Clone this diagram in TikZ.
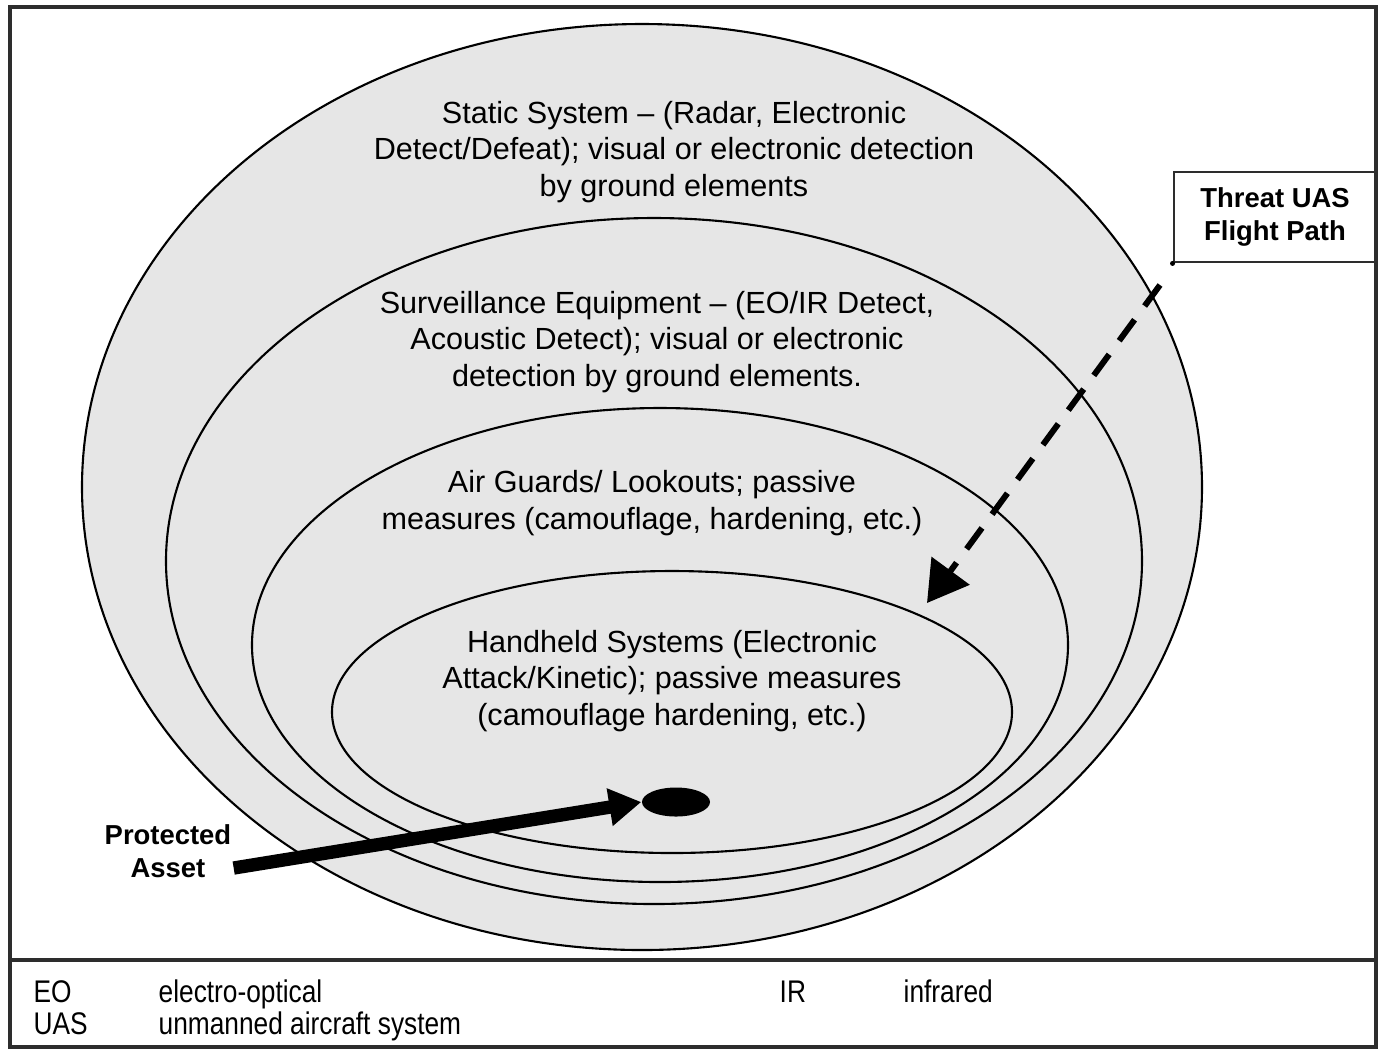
\documentclass[tikz,border=0pt]{standalone}
\usepackage{fontspec}
\setmainfont{Liberation Sans}
\newfontfamily\legendfont[FakeStretch=0.84]{Liberation Sans}
\usetikzlibrary{arrows.meta,shapes.geometric}
\definecolor{zonegray}{RGB}{230,230,230}
\definecolor{framegray}{RGB}{45,45,45}

\begin{document}
\begin{tikzpicture}[x=0.01cm,y=-0.01cm,
    zone/.style={draw=black,fill=zonegray,line width=0.6pt},
    zonetext/.style={align=center,font=\fontsize{8.7}{10.5}\selectfont},
    boldtext/.style={align=center,font=\fontsize{7.8}{9.4}\selectfont\bfseries},
    legendtext/.style={anchor=base west,inner sep=0pt,font=\fontsize{8.9}{10}\selectfont\legendfont}]
      \useasboundingbox (0,0) rectangle (1381,1050);
      % Frame
      \draw[framegray,line width=0.9pt] (10,7) rectangle (1376,1047);
      \draw[framegray,line width=0.9pt] (10,960) -- (1376,960);
      % Zones
      \draw[zone] (642,487) ellipse [x radius=560,y radius=463];
      \draw[zone] (654,561) ellipse [x radius=488,y radius=343];
      \draw[zone] (660,645) ellipse [x radius=408,y radius=237];
      \draw[zone] (672,712) ellipse [x radius=340,y radius=141];
      % Zone labels
      \node[zonetext] (static) at (674,152) {Static System – (Radar, Electronic\\Detect/Defeat); visual or electronic detection\\by ground elements};
      \node[zonetext] (surv) at (657,342) {Surveillance Equipment – (EO/IR Detect,\\Acoustic Detect); visual or electronic\\detection by ground elements.};
      \node[zonetext] (guards) at (652,503) {Air Guards/ Lookouts; passive\\measures (camouflage, hardening, etc.)};
      \node[zonetext] (handheld) at (672,681) {Handheld Systems (Electronic\\Attack/Kinetic); passive measures\\(camouflage hardening, etc.)};
      % Protected asset
      \node[ellipse,fill=black,minimum width=0.68cm,minimum height=0.29cm,inner sep=0pt] (blob) at (676,802) {};
      \node[boldtext] (protlabel) at (168,851) {Protected\\Asset};
      \draw[line width=3.8pt,-{Triangle[length=0.32cm,width=0.36cm]}] ([xshift=-0.1cm,yshift=-0.17cm]protlabel.east) -- (blob.west);
      % Threat flight path
      \node[boldtext,draw=framegray,line width=0.8pt,minimum width=2.02cm,minimum height=0.9cm] (threat) at (1275,217) {Threat UAS\\Flight Path};
      \fill (threat.south west) circle (2.5);
      \coordinate (flightstart) at (1160,285);
      \coordinate (flightend) at (927,603);
      \draw[line width=1.7pt,dash pattern=on 0.26cm off 0.17cm,-{Triangle[length=0.4cm,width=0.46cm]}] (flightstart) -- (flightend);
      % Legend
      \node[legendtext] (eo) at (33,1002) {EO};
      \node[legendtext] (eodef) at (158,1002) {electro-optical};
      \node[legendtext] (ir) at (779,1002) {IR};
      \node[legendtext] (irdef) at (903,1002) {infrared};
      \node[legendtext] (uas) at (33,1034) {UAS};
      \node[legendtext] (uasdef) at (158,1034) {unmanned aircraft system};
    \end{tikzpicture}
\end{document}
